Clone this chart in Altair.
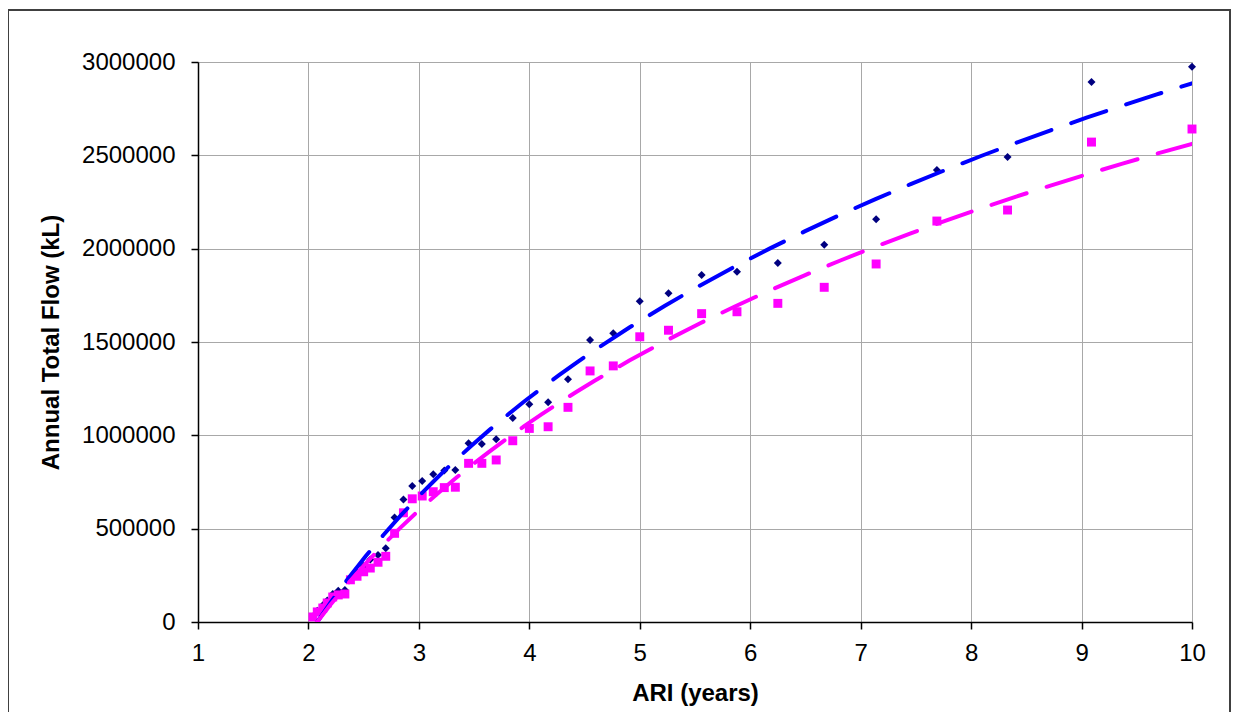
import altair as alt
import pandas as pd

# ARI (years) for each ranked event
ari = [10.00, 9.09, 8.33, 7.69, 7.14, 6.67, 6.25, 5.88, 5.56, 5.26,
       5.00, 4.76, 4.55, 4.35, 4.17, 4.00, 3.85, 3.70, 3.57, 3.45,
       3.33, 3.23, 3.13, 3.03, 2.94, 2.86, 2.78, 2.70, 2.63, 2.56,
       2.50, 2.44, 2.38, 2.33, 2.27, 2.22, 2.17, 2.13, 2.08, 2.04]

# Series 1 (navy diamonds)
flow_a = [2975000, 2893000, 2491000, 2421000, 2158000, 2021000, 1923000, 1877000, 1859000, 1761000,
          1718000, 1547000, 1511000, 1300000, 1177000, 1166000, 1093000, 979000, 954000, 957000,
          814000, 811000, 791000, 755000, 729000, 656000, 560000, 395000, 359000, 335000,
          300000, 265000, 235000, 172000, 168000, 150000, 115000, 90000, 60000, 30000]

# Series 2 (magenta squares)
flow_b = [2641000, 2571000, 2207000, 2148000, 1918000, 1793000, 1707000, 1662000, 1652000, 1563000,
          1528000, 1372000, 1345000, 1150000, 1046000, 1037000, 971000, 868000, 850000, 850000,
          722000, 720000, 698000, 675000, 660000, 585000, 475000, 352000, 320000, 289000,
          269000, 245000, 226000, 150000, 145000, 134000, 102000, 75000, 54000, 27000]

x_ticks = [1, 2, 3, 4, 5, 6, 7, 8, 9, 10]
y_ticks = [0, 500000, 1000000, 1500000, 2000000, 2500000, 3000000]

df_a = pd.DataFrame({"ari": ari, "flow": flow_a})
df_b = pd.DataFrame({"ari": ari, "flow": flow_b})

FONT = "Liberation Sans"

xscale = alt.Scale(domain=[1, 10], nice=False, zero=False)
yscale = alt.Scale(domain=[0, 3000000], nice=False)

xenc = alt.X("ari:Q", scale=xscale,
             axis=alt.Axis(title="ARI (years)", values=x_ticks, format="d",
                           grid=True, gridColor="#a8a8a8", gridWidth=1,
                           domainColor="#000000", domainWidth=1.5,
                           tickColor="#000000", tickSize=7, tickWidth=1.5,
                           labelFont=FONT, labelFontSize=24, labelColor="#000000",
                           labelPadding=12, labelFlush=False,
                           titleFont=FONT, titleFontSize=24, titleFontWeight="bold",
                           titleColor="#000000", titlePadding=16))
yenc = alt.Y("flow:Q", scale=yscale,
             axis=alt.Axis(title="Annual Total Flow (kL)", values=y_ticks, format="d",
                           grid=True, gridColor="#a8a8a8", gridWidth=1,
                           domainColor="#000000", domainWidth=1.5,
                           tickColor="#000000", tickSize=7, tickWidth=1.5,
                           labelFont=FONT, labelFontSize=24, labelColor="#000000",
                           labelPadding=16, labelFlush=False,
                           titleFont=FONT, titleFontSize=24, titleFontWeight="bold",
                           titleColor="#000000", titlePadding=18))

pts_a = alt.Chart(df_a).mark_point(shape="diamond", filled=True, color="#000080",
                                   size=64, opacity=1).encode(x=xenc, y=yenc)
pts_b = alt.Chart(df_b).mark_point(shape="square", filled=True, color="#ff00ff",
                                   size=80, opacity=1).encode(x="ari:Q", y="flow:Q")

trend_a = alt.Chart(df_a).transform_regression(
    "ari", "flow", method="log").mark_line(
    color="#0000ff", strokeWidth=4, strokeDash=[37, 21], strokeCap="round", clip=True
).encode(x="ari:Q", y="flow:Q")
trend_b = alt.Chart(df_b).transform_regression(
    "ari", "flow", method="log").mark_line(
    color="#ff00ff", strokeWidth=4, strokeDash=[37, 21], strokeCap="round", clip=True
).encode(x="ari:Q", y="flow:Q")

frame = alt.Chart(df_a).mark_rect(fill=None, stroke="#404040", strokeWidth=1.5,
                                  clip=False).encode(
    x=alt.value(-190), x2=alt.value(1032), y=alt.value(-52), y2=alt.value(720))

chart = alt.layer(frame, pts_a, pts_b, trend_a, trend_b).properties(
    width=994, height=560,
    autosize=alt.AutoSizeParams(type="none"),
    padding={"left": 190, "top": 54, "right": 39, "bottom": 90},
).configure_view(stroke="#808080", strokeWidth=1.5).configure(background="white")

chart.save("out.html", embed_options={"renderer": "svg", "actions": False})
